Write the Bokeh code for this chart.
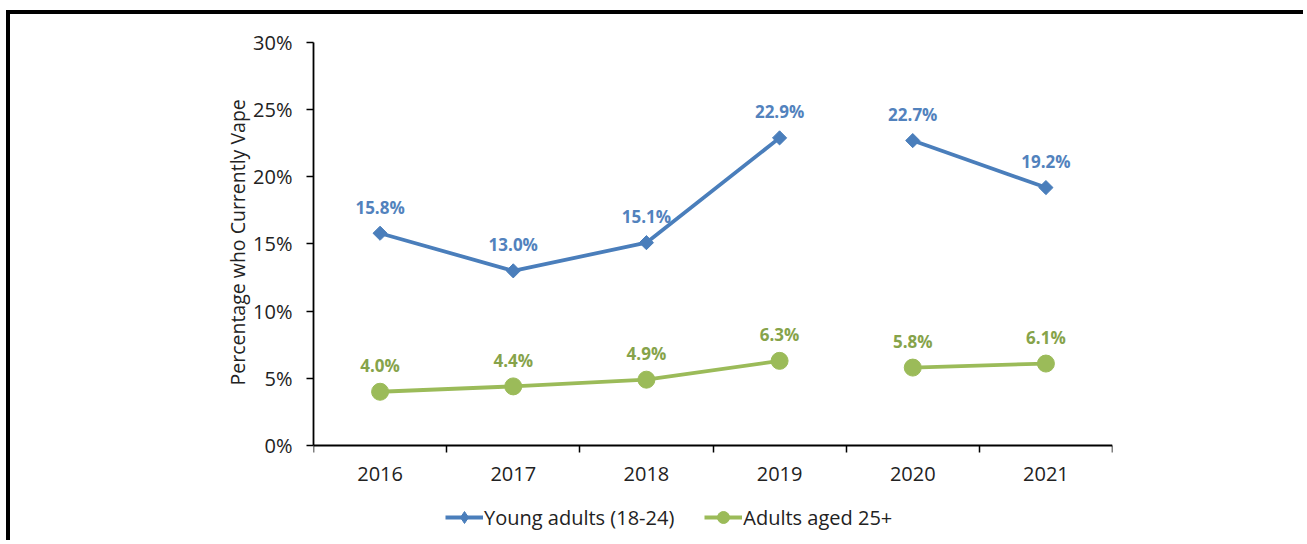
import math
from bokeh.plotting import figure
from bokeh.models import (ColumnDataSource, FixedTicker, Legend, LegendItem,
                          PrintfTickFormatter, Range1d, Title)
from bokeh.core.properties import value
from bokeh.embed import file_html
from bokeh.resources import INLINE

# ---- data ----
years = ["2016", "2017", "2018", "2019", "2020", "2021"]
young_adults = [15.8, 13.0, 15.1, 22.9, 22.7, 19.2]
adults_25 = [4.0, 4.4, 4.9, 6.3, 5.8, 6.1]
y_ticks = [0, 5, 10, 15, 20, 25, 30]
series_names = ["Young adults (18-24)", "Adults aged 25+"]
y_title = "Percentage who Currently Vape"
break_after = 4  # line is broken between 2019 and 2020

BLUE = "#4A7EBB"
BLUE_TXT = "#5282BD"
GREEN = "#9BBB59"
GREEN_TXT = "#86A34A"
FONT = "Open Sans"

xs = list(range(len(years)))

# frame runs to the bottom of the canvas; the x axis sits at y=0
p = figure(width=1297, height=530, output_backend="svg", toolbar_location=None,
           x_range=Range1d(-0.5, len(years) - 0.5), y_range=Range1d(-7.37, 30),
           min_border_left=303, min_border_right=195, min_border_top=28,
           min_border_bottom=0)
p.styles = {"border-top": "4px solid black", "border-left": "4px solid black",
            "margin-top": "10px", "margin-left": "6px"}
p.outline_line_color = None
p.grid.grid_line_color = None
p.background_fill_color = "white"
p.border_fill_color = "white"

# x axis: labels at centres, ticks at category boundaries
xa = p.xaxis[0]
xa.fixed_location = 0
xa.ticker = FixedTicker(ticks=xs, minor_ticks=[i - 0.5 for i in range(len(years) + 1)])
xa.major_label_overrides = {i: y for i, y in enumerate(years)}
xa.major_tick_out = 0
xa.major_tick_in = 0
xa.minor_tick_out = 7
xa.minor_tick_in = 0
xa.minor_tick_line_color = "black"
xa.minor_tick_line_width = 1.5
xa.axis_line_color = "black"
xa.axis_line_width = 1.8
xa.major_label_text_font = FONT
xa.major_label_text_font_size = "20px"
xa.major_label_text_color = "#222222"
xa.major_label_standoff = 15

ya = p.yaxis[0]
ya.bounds = (0, 30)
ya.ticker = FixedTicker(ticks=y_ticks, minor_ticks=[])
ya.formatter = PrintfTickFormatter(format="%d%%")
ya.major_tick_out = 7
ya.major_tick_in = 0
ya.major_tick_line_color = "black"
ya.major_tick_line_width = 1.5
ya.axis_line_color = "black"
ya.axis_line_width = 1.8
ya.major_label_text_font = FONT
ya.major_label_text_font_size = "20px"
ya.major_label_text_color = "#222222"
ya.major_label_standoff = 14

# y axis title, centred on the 0-30% span
p.add_layout(Title(text=y_title, align="left", offset=159, standoff=0,
                   text_font=FONT, text_font_size="19.5px",
                   text_font_style="normal", text_color="#222222"), "left")

items = []
for vals, color, tcolor, marker, msize, ang, name in [
        (young_adults, BLUE, BLUE_TXT, "square", 10, math.pi / 4, series_names[0]),
        (adults_25, GREEN, GREEN_TXT, "circle", 17, 0, series_names[1])]:
    r_lines = []
    for seg in (slice(0, break_after), slice(break_after, len(years))):
        src = ColumnDataSource(dict(x=xs[seg], y=vals[seg]))
        r_lines.append(p.line("x", "y", source=src, line_color=color, line_width=3.8))
    src_all = ColumnDataSource(dict(x=xs, y=vals,
                                    lbl=["%.1f%%" % v for v in vals]))
    if marker == "square":
        # diamond key for the legend, hidden under the rotated squares
        r_key = p.scatter("x", "y", source=src_all, marker="diamond", size=10,
                          fill_color=color, line_color=color)
    r_m = p.scatter("x", "y", source=src_all, marker=marker, size=msize, angle=ang,
                    fill_color=color, line_color=color)
    if marker != "square":
        r_key = r_m
    p.text("x", "y", text="lbl", source=src_all, text_align="center",
           text_baseline="middle", y_offset=-26, text_color=tcolor,
           text_font=value(FONT), text_font_size="17px", text_font_style="bold")
    items.append(LegendItem(label=name, renderers=[r_lines[0], r_key]))

legend = Legend(items=items, orientation="horizontal", location=(127, 7),
                glyph_width=38, glyph_height=30, label_standoff=1, spacing=30,
                padding=5, margin=0, border_line_alpha=0, background_fill_alpha=0,
                label_text_font=FONT, label_text_font_size="20px",
                label_text_color="#222222")
p.add_layout(legend)

open("out.html", "w").write(file_html(p, INLINE))
